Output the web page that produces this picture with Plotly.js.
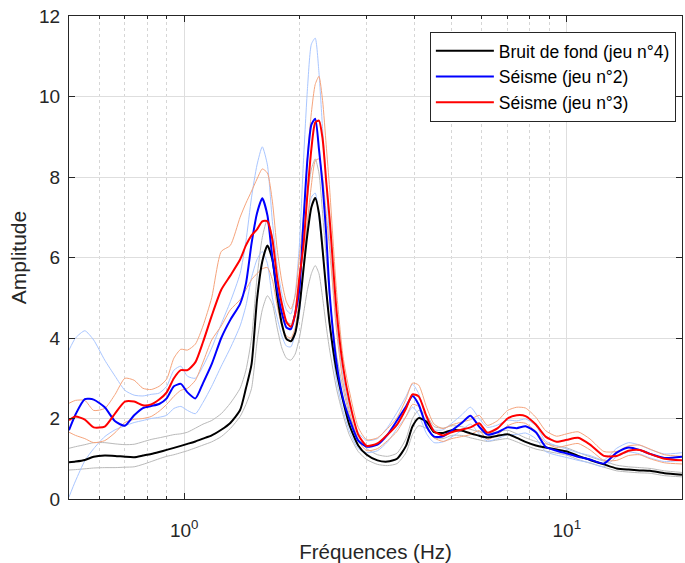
<!DOCTYPE html>
<html><head><meta charset="utf-8">
<script src="https://cdn.plot.ly/plotly-3.0.1.min.js"></script>
<style>html,body{margin:0;padding:0;background:#fff}#plot{width:685px;height:563px}</style>
</head><body><div id="plot"></div>
<script>
const freq = [0.5,0.52,0.55,0.58,0.62,0.66,0.7,0.74,0.78,0.82,0.86,0.9,0.94,0.98,1.02,1.07,1.12,1.18,1.25,1.32,1.4,1.45,1.5,1.55,1.6,1.65,1.7,1.75,1.8,1.85,1.9,1.95,2.0,2.05,2.1,2.15,2.2,2.25,2.3,2.35,2.4,2.5,2.6,2.7,2.85,3.0,3.2,3.4,3.6,3.8,3.95,4.1,4.3,4.5,4.75,5.0,5.3,5.6,5.9,6.2,6.6,7.0,7.4,7.8,8.3,8.8,9.4,10,10.7,11.5,12.5,13.5,14.5,15.5,16.5,18,20];

const bruit = [0.91,0.93,0.97,1.05,1.08,1.07,1.05,1.04,1.08,1.12,1.17,1.22,1.27,1.32,1.37,1.43,1.5,1.58,1.72,1.89,2.21,2.75,3.35,4.95,5.9,6.3,5.95,5.05,4.35,3.98,3.92,4.12,4.75,5.7,6.6,7.25,7.48,7.1,6.2,5.2,4.35,3.2,2.45,1.85,1.33,1.1,0.96,0.93,1.0,1.32,1.8,2.01,1.92,1.66,1.64,1.71,1.70,1.63,1.57,1.53,1.57,1.61,1.52,1.42,1.33,1.28,1.23,1.18,1.07,0.97,0.86,0.76,0.73,0.71,0.70,0.64,0.60];
const bruitHaut = [1.26,1.3,1.35,1.4,1.4,1.37,1.35,1.36,1.42,1.48,1.52,1.56,1.6,1.62,1.66,1.76,1.86,1.95,2.12,2.38,2.75,3.2,4.0,5.5,6.5,6.95,6.5,5.5,4.8,4.42,4.35,4.6,5.3,6.4,7.5,8.2,8.45,8.1,7.1,6.0,5.0,3.6,2.75,2.1,1.5,1.25,1.1,1.06,1.14,1.5,2.0,2.2,2.08,1.8,1.76,1.82,1.8,1.73,1.67,1.63,1.67,1.71,1.62,1.52,1.43,1.37,1.32,1.27,1.16,1.05,0.94,0.84,0.8,0.78,0.76,0.7,0.66];
const bruitBas = [0.72,0.73,0.75,0.77,0.78,0.78,0.79,0.8,0.86,0.93,1.0,1.06,1.1,1.15,1.2,1.27,1.34,1.42,1.55,1.75,2.05,2.35,2.75,3.9,4.7,5.05,4.85,4.25,3.75,3.5,3.45,3.6,4.0,4.6,5.2,5.6,5.8,5.6,5.0,4.3,3.7,2.75,2.1,1.6,1.18,0.98,0.86,0.83,0.88,1.15,1.6,1.82,1.75,1.52,1.5,1.58,1.58,1.52,1.47,1.43,1.47,1.5,1.42,1.33,1.24,1.19,1.14,1.09,0.98,0.89,0.79,0.7,0.67,0.65,0.64,0.58,0.55];

const seisme2 = [1.71,2.1,2.48,2.47,2.28,1.93,1.82,2.08,2.26,2.31,2.36,2.5,2.8,2.86,2.65,2.5,2.88,3.35,4.0,4.45,4.85,5.35,6.35,7.1,7.47,7.05,6.0,5.2,4.62,4.26,4.22,4.6,5.2,6.9,8.45,9.3,9.45,8.7,7.8,6.6,5.1,3.4,2.5,2.0,1.45,1.3,1.35,1.6,1.95,2.3,2.56,2.35,1.8,1.55,1.56,1.7,1.88,2.07,1.8,1.6,1.66,1.78,1.76,1.81,1.66,1.3,1.2,1.13,1.05,0.98,0.88,1.15,1.28,1.22,1.12,1.02,1.05];
const seisme2Haut = [3.7,4.0,4.18,3.95,3.45,3.05,2.7,2.58,2.56,2.6,2.63,2.8,3.2,3.3,3.05,3.0,3.3,3.75,4.35,4.9,5.6,6.4,7.5,8.3,8.75,8.3,6.9,5.8,5.1,4.7,4.6,5.1,6.3,8.4,10.2,11.3,11.45,10.6,9.2,7.9,6.4,4.3,3.05,2.3,1.65,1.45,1.5,1.78,2.15,2.55,2.85,2.62,2.0,1.72,1.72,1.88,2.08,2.28,2.0,1.78,1.84,1.96,1.94,1.99,1.82,1.44,1.32,1.24,1.15,1.08,0.97,1.26,1.4,1.34,1.23,1.12,1.15];
const seisme2Bas = [0.05,0.45,0.95,1.25,1.55,1.72,1.82,1.9,1.95,2.0,2.03,2.08,2.25,2.3,2.2,2.12,2.4,2.8,3.3,3.75,4.3,4.8,5.5,5.95,6.15,5.85,5.0,4.5,4.05,3.8,3.78,4.1,4.6,5.8,6.9,7.5,7.6,7.0,6.1,5.3,4.3,2.95,2.2,1.7,1.25,1.15,1.2,1.42,1.75,2.05,2.28,2.1,1.62,1.4,1.42,1.54,1.7,1.86,1.62,1.44,1.5,1.6,1.6,1.64,1.5,1.18,1.09,1.03,0.96,0.9,0.8,1.05,1.17,1.12,1.02,0.93,0.96];

const seisme3 = [1.96,2.05,1.97,1.78,1.80,2.13,2.42,2.42,2.33,2.35,2.47,2.65,3.0,3.2,3.2,3.4,3.9,4.55,5.2,5.55,5.95,6.3,6.55,6.7,6.9,6.9,6.45,5.5,4.85,4.4,4.28,4.6,5.5,6.3,7.6,8.7,9.35,9.4,8.95,7.9,6.95,4.7,3.3,2.45,1.6,1.32,1.38,1.6,1.85,2.25,2.6,2.55,2.05,1.68,1.58,1.66,1.72,1.78,1.88,1.65,1.76,2.0,2.08,2.06,1.85,1.55,1.42,1.47,1.52,1.35,1.07,1.07,1.2,1.22,1.12,1.0,0.96];
const seisme3Haut = [2.38,2.45,2.45,2.2,2.25,2.6,3.0,2.95,2.75,2.72,2.8,2.98,3.5,3.72,3.7,3.85,4.3,5.0,6.15,6.3,7.0,7.35,7.65,7.95,8.2,8.1,7.4,6.2,5.4,4.9,4.72,5.05,6.0,7.0,8.5,9.6,10.3,10.5,9.9,8.8,7.7,5.2,3.55,2.7,1.78,1.47,1.52,1.75,2.02,2.48,2.88,2.83,2.28,1.86,1.75,1.84,1.91,1.97,2.08,1.83,1.95,2.2,2.28,2.26,2.03,1.7,1.56,1.62,1.67,1.49,1.18,1.18,1.32,1.34,1.24,1.1,1.06];
const seisme3Bas = [1.66,1.58,1.5,1.4,1.45,1.65,1.9,1.98,2.0,2.05,2.18,2.35,2.55,2.7,2.75,2.95,3.4,3.95,4.3,4.7,4.95,5.2,5.45,5.6,5.72,5.75,5.45,4.8,4.3,4.05,4.0,4.25,5.0,5.8,6.9,7.8,8.4,8.45,8.0,7.1,6.2,4.2,2.9,2.2,1.45,1.2,1.25,1.45,1.68,2.05,2.35,2.3,1.85,1.52,1.43,1.5,1.55,1.6,1.7,1.48,1.6,1.82,1.9,1.88,1.68,1.4,1.28,1.33,1.38,1.22,0.96,0.96,1.08,1.1,1.0,0.9,0.87];

const legendNames = ['Bruit de fond (jeu n°4)','Séisme (jeu n°2)','Séisme (jeu n°3)'];
const xTickVals = [1,10];
const xTickText = ['10<sup>0</sup>','10<sup>1</sup>'];
const xMinorVals = [0.5,0.6,0.7,0.8,0.9,2,3,4,5,6,7,8,9,20];
const yTickVals = [0,2,4,6,8,10,12];

const FONT = 'Liberation Sans, Arial, Helvetica, sans-serif';
function env(y, color){
  return {x: freq, y: y, type:'scatter', mode:'lines', showlegend:false, hoverinfo:'skip',
          line:{color:color, width:1, shape:'spline', smoothing:0.6}};
}
function main(y, name, color){
  return {x: freq, y: y, type:'scatter', mode:'lines', name:name,
          line:{color:color, width:2, shape:'spline', smoothing:0.6}};
}
const data = [
  env(bruitHaut,'#b9b9b9'), env(bruitBas,'#b9b9b9'),
  env(seisme2Haut,'#a9c6ff'), env(seisme2Bas,'#a9c6ff'),
  env(seisme3Haut,'#f6a47c'), env(seisme3Bas,'#f6a47c'),
  main(bruit, legendNames[0], '#000000'),
  main(seisme2, legendNames[1], '#0000ff'),
  main(seisme3, legendNames[2], '#ff0000')
];
const layout = {
  width:685, height:563,
  margin:{l:69, r:3, t:16, b:64},
  paper_bgcolor:'#ffffff', plot_bgcolor:'#ffffff',
  font:{family:FONT, size:17, color:'#262626'},
  showlegend:true,
  legend:{x:0.990, xanchor:'right', y:0.967, yanchor:'top', bgcolor:'#ffffff',
          bordercolor:'#262626', borderwidth:1, font:{family:FONT, size:17.5, color:'#000'},
          itemwidth:58, tracegroupgap:0},
  xaxis:{type:'log', range:[Math.log10(0.5), Math.log10(20)], tickmode:'array',
         tickvals:xTickVals, ticktext:xTickText, ticks:'inside', ticklen:6, tickcolor:'#262626',
         showline:true, linecolor:'#262626', linewidth:1, mirror:'ticks',
         showgrid:true, gridcolor:'#dedede', gridwidth:1, zeroline:false,
         ticklabelstandoff:14,
         minor:{tickmode:'array', tickvals:xMinorVals, ticks:'inside', ticklen:3, tickcolor:'#262626',
                showgrid:true, gridcolor:'#d6d6d6', griddash:'dot', gridwidth:1},
         title:{text:'Fréquences (Hz)', font:{family:FONT, size:20.5, color:'#262626'}, standoff:6},
         tickfont:{family:FONT, size:19, color:'#262626'}},
  yaxis:{range:[0,12], tickmode:'array', tickvals:yTickVals, ticks:'inside', ticklen:6, tickcolor:'#262626',
         showline:true, linecolor:'#262626', linewidth:1, mirror:'ticks',
         showgrid:true, gridcolor:'#dedede', gridwidth:1, zeroline:false,
         ticklabelstandoff:4,
         title:{text:'Amplitude', font:{family:FONT, size:21, color:'#262626'}, standoff:6},
         tickfont:{family:FONT, size:19, color:'#262626'}}
};
Plotly.newPlot('plot', data, layout, {displayModeBar:false, staticPlot:true});
</script></body></html>
